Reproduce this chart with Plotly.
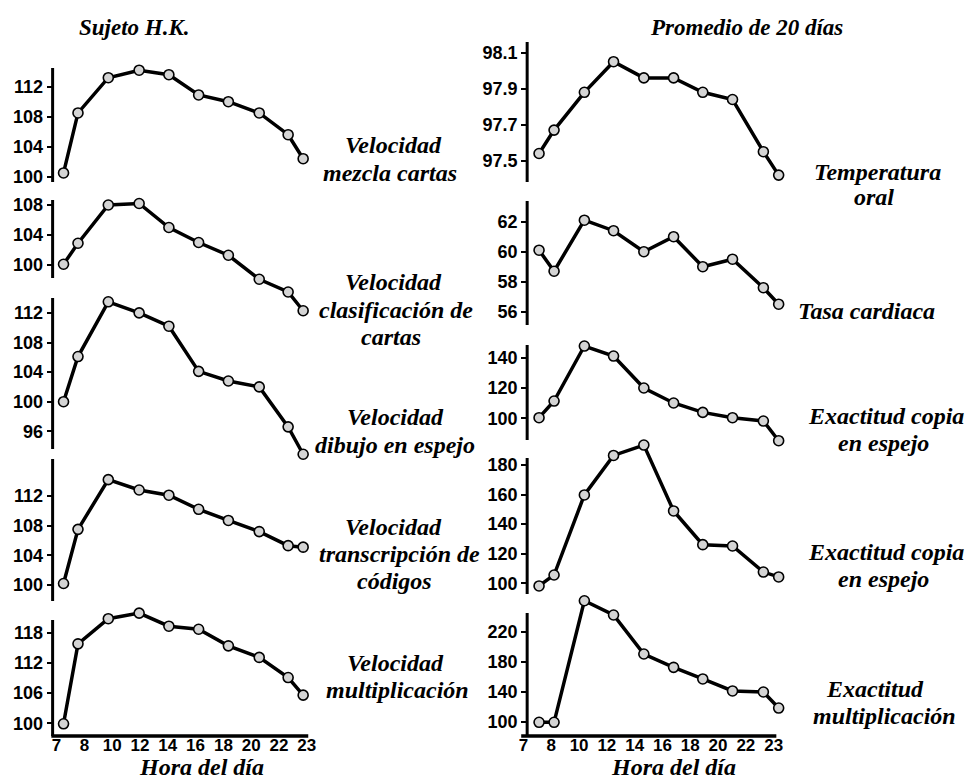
import plotly.graph_objects as go

W, H = 967, 780

# Hour-of-day axis: labels are evenly spaced along the axis
hour_ticks = ["7", "8", "10", "12", "14", "16", "18", "20", "22", "23"]

# Measurement times, in positions along the hour axis
pos_left = [0.25, 0.77, 1.86, 2.97, 4.04, 5.11, 6.18, 7.29, 8.33, 8.87]
pos_right = [0.56, 1.10, 2.19, 3.24, 4.33, 5.40, 6.45, 7.52, 8.63, 9.18]

# Sujeto H.K.
vel_mezcla = [100.5, 108.5, 113.2, 114.2, 113.6, 110.9, 110.0, 108.5, 105.6, 102.4]
vel_clasificacion = [100.1, 102.9, 108.0, 108.2, 105.0, 103.0, 101.3, 98.1, 96.4, 93.9]
vel_dibujo = [100.0, 106.1, 113.5, 112.0, 110.2, 104.1, 102.8, 102.0, 96.6, 92.9]
vel_transcripcion = [100.2, 107.5, 114.2, 112.8, 112.1, 110.2, 108.7, 107.2, 105.3, 105.1]
vel_multiplicacion = [99.9, 115.8, 120.8, 121.9, 119.3, 118.7, 115.4, 113.1, 109.1, 105.6]

# Promedio de 20 días
temperatura_oral = [97.54, 97.67, 97.88, 98.05, 97.96, 97.96, 97.88, 97.84, 97.55, 97.42]
tasa_cardiaca = [60.1, 58.7, 62.1, 61.4, 60.0, 61.0, 59.0, 59.5, 57.6, 56.5]
exact_copia_1 = [100.4, 111.4, 147.7, 141.1, 120.0, 110.1, 103.9, 100.4, 98.2, 85.2]
exact_copia_2 = [98.2, 105.6, 159.7, 186.4, 193.4, 148.9, 126.1, 125.2, 107.6, 104.3]
exact_multiplicacion = [99.2, 99.2, 261.3, 242.3, 190.3, 172.5, 157.0, 141.0, 139.6, 118.2]

# Y tick values per panel
ticks_mezcla = [100, 104, 108, 112]
ticks_clasificacion = [100, 104, 108]
ticks_dibujo = [96, 100, 104, 108, 112]
ticks_transcripcion = [100, 104, 108, 112]
ticks_multiplicacion = [100, 106, 112, 118]
ticks_temperatura = [97.5, 97.7, 97.9, 98.1]
ticks_tasa = [56, 58, 60, 62]
ticks_copia_1 = [100, 120, 140]
ticks_copia_2 = [100, 120, 140, 160, 180]
ticks_exact_mult = [100, 140, 180, 220]

# Panel geometry (pixels): reference tick value/pixel, px per unit,
# spine extent, and plotting band
panels = [
    # side, values, ticks, t0, p0, px/unit, spine top, spine bottom, band top, band bottom
    ("L", vel_mezcla, ticks_mezcla, 100, 176.7, 7.5, 68, 182, 60, 190),
    ("L", vel_clasificacion, ticks_clasificacion, 100, 265.0, 7.5, 200, 278, 195, 318),
    ("L", vel_dibujo, ticks_dibujo, 100, 401.7, 7.4, 298, 449, 294, 461),
    ("L", vel_transcripcion, ticks_transcripcion, 100, 585.0, 7.42, 459, 601, 455, 605),
    ("L", vel_multiplicacion, ticks_multiplicacion, 100, 723.3, 5.03, 620, 736, 605, 736),
    ("R", temperatura_oral, ticks_temperatura, 97.5, 160.7, 180.0, 42, 182, 38, 185),
    ("R", tasa_cardiaca, ticks_tasa, 56, 311.7, 15.0, 201, 325, 196, 330),
    ("R", exact_copia_1, ticks_copia_1, 100, 418.3, 1.515, 345, 440, 340, 447),
    ("R", exact_copia_2, ticks_copia_2, 100, 583.3, 1.48, 458, 594, 439, 598),
    ("R", exact_multiplicacion, ticks_exact_mult, 100, 721.7, 0.75, 613, 736, 594, 736),
]

# Horizontal geometry (pixels): spine x, band edges, tick "7" pixel, px per slot
sides = {
    "L": dict(spine=53, left=45, right=311, origin=57.0, step=28.0, xline=(51.7, 310.5), xname="x"),
    "R": dict(spine=531, left=515, right=792, origin=527.3, step=28.0, xline=(525.0, 782.0), xname="x2"),
}

Y_TICK_FONT = dict(family="Liberation Sans, Arial, sans-serif", size=18, color="black", weight="bold")
X_TICK_FONT = dict(family="Liberation Sans, Arial, sans-serif", size=17, color="black", weight="bold")
LABEL_FONT = dict(family="Liberation Serif, Times New Roman, serif", size=24, color="black",
                  weight="bold", style="italic")


def px_x(p):
    return p / W


def px_y(p):
    return 1 - p / H


fig = go.Figure()
layout = dict(
    width=W, height=H, margin=dict(l=0, r=0, t=0, b=0),
    paper_bgcolor="white", plot_bgcolor="rgba(0,0,0,0)",
    showlegend=False, autosize=False,
)
shapes = []

for i, (side, vals, tks, t0, p0, s, ltop, lbot, btop, bbot) in enumerate(panels, start=1):
    sd = sides[side]
    ykey = "yaxis" if i == 1 else f"yaxis{i}"
    yref = "y" if i == 1 else f"y{i}"
    hi = t0 + (p0 - btop) / s
    lo = t0 + (p0 - bbot) / s
    layout[ykey] = dict(
        domain=[px_y(bbot), px_y(btop)], range=[lo, hi],
        anchor="free", position=px_x(sd["spine"]),
        tickmode="array", tickvals=tks, ticktext=[f"{t:g}" for t in tks],
        ticks="outside", ticklen=6, tickwidth=2, tickcolor="black",
        showgrid=False, zeroline=False, showline=False,
        tickfont=Y_TICK_FONT, fixedrange=True,
    )
    pos = pos_left if side == "L" else pos_right
    fig.add_trace(go.Scatter(
        x=pos, y=vals, xaxis=sd["xname"], yaxis=yref, mode="lines+markers",
        line=dict(color="black", width=3.5),
        marker=dict(size=10, color="#d4d4d4", line=dict(color="black", width=1.6)),
        cliponaxis=False, hoverinfo="skip",
    ))
    # vertical spine
    shapes.append(dict(type="line", xref="paper", yref="paper",
                       x0=px_x(sd["spine"]), x1=px_x(sd["spine"]),
                       y0=px_y(lbot), y1=px_y(ltop),
                       line=dict(color="black", width=3)))

for side, anchor in (("L", "y5"), ("R", "y10")):
    sd = sides[side]
    key = "xaxis" if side == "L" else "xaxis2"
    x_lo = (sd["left"] - sd["origin"]) / sd["step"]
    x_hi = (sd["right"] - sd["origin"]) / sd["step"]
    layout[key] = dict(
        domain=[px_x(sd["left"]), px_x(sd["right"])], range=[x_lo, x_hi], anchor=anchor,
        tickmode="array", tickvals=list(range(len(hour_ticks))), ticktext=hour_ticks,
        ticks="", showgrid=False, zeroline=False, showline=False,
        tickfont=X_TICK_FONT, fixedrange=True, ticklabelstandoff=-3,
    )
    shapes.append(dict(type="line", xref="paper", yref="paper",
                       x0=px_x(sd["xline"][0]), x1=px_x(sd["xline"][1]),
                       y0=px_y(736), y1=px_y(736),
                       line=dict(color="black", width=3.5)))

layout["shapes"] = shapes

# Text: headers, axis titles and panel names
texts = [
    ("Sujeto H.K.", 135, 28, 23),
    ("Promedio de 20 días", 752, 28, 23),
    ("Hora del día", 203, 767, 24),
    ("Hora del día", 678, 767, 24),
    ("Velocidad", 396, 145, 24), ("mezcla cartas", 393, 173, 24),
    ("Velocidad", 396, 282, 24), ("clasificación de", 399, 310, 24), ("cartas", 394, 337, 24),
    ("Velocidad", 398, 417, 24), ("dibujo en espejo", 398, 445, 24),
    ("Velocidad", 396, 527, 24), ("transcripción de", 402, 554, 24), ("códigos", 397, 581, 24),
    ("Velocidad", 398, 663, 24), ("multiplicación", 400, 690, 24),
    ("Temperatura", 884, 172, 24), ("oral", 880, 197, 24),
    ("Tasa cardiaca", 873, 311, 24),
    ("Exactitud copia", 892, 416, 24), ("en espejo", 890, 443, 24),
    ("Exactitud copia", 892, 552, 24), ("en espejo", 890, 579, 24),
    ("Exactitud", 881, 689, 24), ("multiplicación", 891, 716, 24),
]
annotations = []
for txt, cx, cy, size in texts:
    f = dict(LABEL_FONT)
    f["size"] = size
    annotations.append(dict(text=txt, x=px_x(cx), y=px_y(cy), xref="paper", yref="paper",
                            xanchor="center", yanchor="middle", showarrow=False, font=f))
layout["annotations"] = annotations

fig.update_layout(**layout)
fig.write_html("out.html", config={"displayModeBar": False})
